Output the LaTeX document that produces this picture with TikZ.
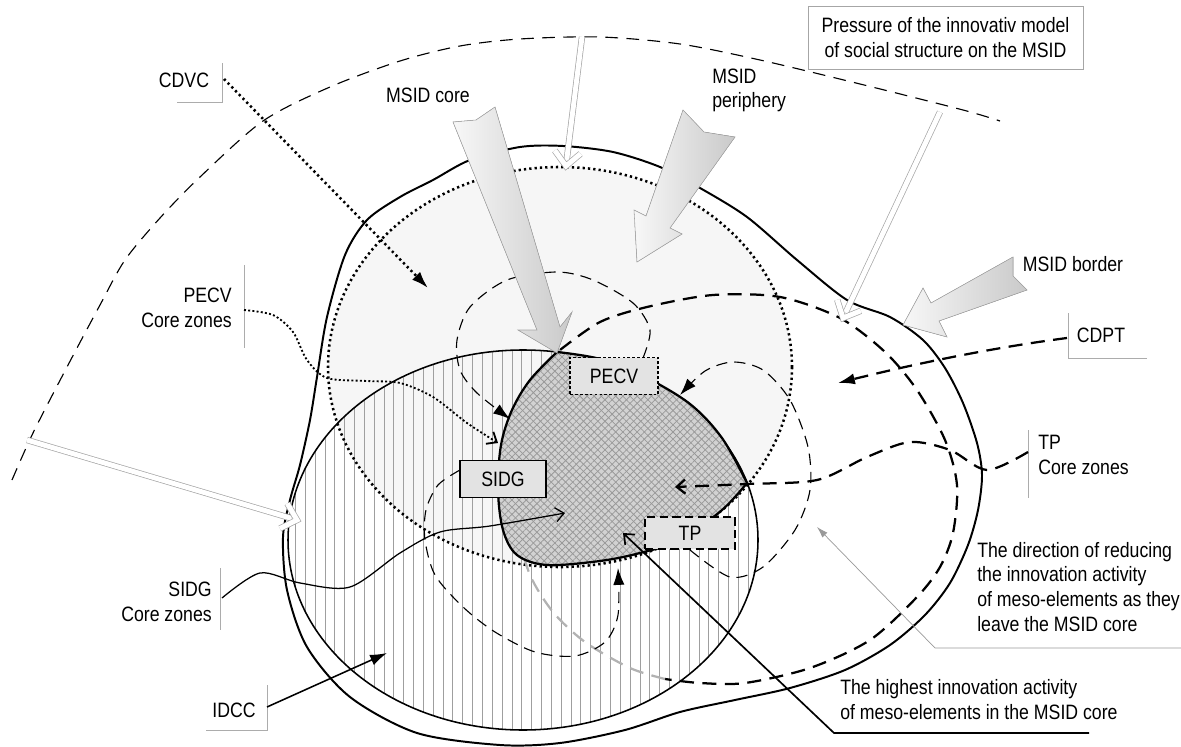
\documentclass[tikz,border=0pt]{standalone}
\usepackage{fontspec}
\setmainfont{Liberation Sans}[FakeStretch=0.85]
\usetikzlibrary{arrows.meta,patterns.meta}

\tikzset{
  lbl/.style={font=\fontsize{14.8}{17.5}\selectfont, inner sep=0pt},
  brk/.style={gray!65, line width=0.5pt},
  corebox/.style={lbl, draw, fill=gray!22, minimum height=0.92cm},
  fatarrow/.style={draw=gray!70, line width=0.4pt, left color=gray!6, right color=gray!42},
  dblarrow/.style={draw=gray!70, line width=0.5pt, double=white, double distance=3.5pt, line join=miter},
  arcline/.style={dash pattern=on 9pt off 6pt, line width=0.8pt},
  loopline/.style={dash pattern=on 8pt off 5pt, line width=0.8pt},
  tpline/.style={dash pattern=on 10pt off 6pt, line width=1.6pt},
  dotline/.style={dash pattern=on 1.6pt off 2.2pt, line width=1.8pt},
  fdot/.style={dash pattern=on 1.4pt off 1.6pt, line width=1.3pt},
  tipfill/.style={-{Latex[length=12pt,width=8pt]}},
  tipopen/.style={-{Straight Barb[length=6pt,width=10pt]}}
}

\begin{document}
\begin{tikzpicture}[x=0.025cm, y=-0.025cm]
    \useasboundingbox (0,0) rectangle (1181,747);

    % Outer arc of the innovative model
    \draw[arcline] plot[smooth] coordinates {(12,480) (33,433) (67,367) (100,305) (125,260) (160,218) (200,177) (263,121) (330,87) (400,61) (460,46) (520,39) (600,37) (680,44) (760,60) (860,84) (963,110) (1000,121)};

    % Periphery and IDCC areas
    \fill[gray!7] (560,367) ellipse (232 and 200);
    \path[pattern={Lines[angle=90,distance=7pt,line width=0.45pt]}, pattern color=gray!75] (523,540) ellipse (235 and 190);

    % MSID border
    \draw[line width=1.4pt] plot[smooth cycle] coordinates {(283,537) (290,500) (300,465) (310,420) (317,377) (327,317) (345,255) (367,220) (400,197) (433,180) (470,160) (520,147) (563,146) (613,152) (660,167) (700,188) (747,217) (797,260) (847,300) (890,317) (923,340) (945,368) (963,403) (977,443) (982,475) (978,510) (968,545) (950,583) (925,615) (890,645) (845,670) (790,688) (735,700) (680,712) (625,730) (560,743) (500,745) (417,733) (350,697) (307,647) (287,590)};

    % Dotted periphery line
    \draw[dotline] (560,367) ellipse (232 and 200);

    % TP zone
    \draw[tpline] plot[smooth] coordinates {(560,350) (600,322) (647,307) (713,295) (780,297) (840,318) (885,352) (917,390) (945,440) (957,485) (953,533) (940,567) (917,597) (870,640) (810,668) (745,683) (700,683) (665,679)};
    \draw[tpline, gray!60] plot[smooth] coordinates {(665,679) (630,668) (585,642) (553,612) (530,575) (518,530) (517,480) (525,420) (540,375) (560,350)};

    % IDCC outline
    \draw[line width=1.1pt] (523,540) ellipse (235 and 190);

    % MSID core
    \draw[line width=1.6pt, preaction={fill=gray!35}, preaction={pattern={Lines[angle=45,distance=3.6pt,line width=0.55pt]}, pattern color=gray!80}, preaction={pattern={Lines[angle=-45,distance=3.6pt,line width=0.55pt]}, pattern color=gray!80}]
        plot[smooth, tension=0.55] coordinates {(557,352) (600,359) (645,377) (690,404) (722,438) (747,483)}
        -- plot[smooth, tension=0.55] coordinates {(747,483) (722,510) (680,540) (640,553) (600,561) (547,565) (517,555) (503,530) (498,490) (501,445) (512,410) (530,380) (557,352)} -- cycle;

    % Core zone loops
    \draw[loopline, tipfill] plot[smooth] coordinates {(643,358) (650,330) (633,303) (593,280) (557,272) (507,280) (470,307) (457,340) (460,370) (477,393) (510,419)};
    \draw[loopline, tipfill] plot[smooth] coordinates {(690,550) (730,577) (763,567) (795,530) (810,490) (808,447) (790,400) (763,370) (733,362) (705,371) (680,395)};
    \draw[loopline, tipfill] plot[smooth] coordinates {(460,470) (438,485) (426,510) (425,540) (435,575) (463,607) (495,632) (535,652) (575,656) (605,642) (618,615) (618,568)};

    % Boxes in the core
    \node[corebox, dash pattern=on 2pt off 1.5pt, line width=1pt, minimum width=2.2cm] (pecv) at (614,376) {PECV};
    \node[corebox, line width=1pt, minimum width=2.15cm] (sidg) at (503,479) {SIDG};
    \node[corebox, dash pattern=on 6pt off 3pt, line width=1.5pt, minimum width=2.25cm, minimum height=0.82cm] (tp) at (690,533) {TP};

    % Pressure arrows
    \filldraw[fatarrow] (453,122) -- (476,120) -- (495,107) -- (560,327) -- (572,312) -- (557,353) -- (518,330) -- (537,330) -- cycle;
    \filldraw[fatarrow] (683,110) -- (704,132) -- (735,137) -- (670,228) -- (682,234) -- (637,262) -- (634,210) -- (646,216) -- cycle;
    \filldraw[fatarrow] (1013,257) -- (1013,276) -- (1027,290) -- (939,321) -- (947,337) -- (903,325) -- (923,288) -- (931,303) -- cycle;

    \draw[dblarrow] (582,37) -- (566.7,160);
    \draw[dblarrow] (580.6,153.7) -- (566,166) -- (554.8,150.5);
    \draw[dblarrow] (940,112) -- (845.6,312.6);
    \draw[dblarrow] (860.8,310.8) -- (843,318) -- (837.2,299.8);
    \draw[dblarrow] (27,440) -- (291.2,518.3);
    \draw[dblarrow] (279.9,528.5) -- (297,520) -- (287.3,503.5);

    % Labels
    \node[lbl, draw=gray!70, line width=0.5pt, minimum width=6.875cm, minimum height=1.575cm, align=center] (press) at (945.5,37.5) {Pressure of the innovativ model\\of social structure on the MSID};
    \node[lbl, anchor=base] (cdvc) at (184,88) {CDVC};
    \node[lbl, anchor=base] (msidcore) at (428,103) {MSID core};
    \node[lbl, anchor=base west, align=left] (msidper) at (712,108) {MSID\\periphery};
    \node[lbl, anchor=base] (msidbord) at (1073,272) {MSID border};
    \node[lbl, anchor=base] (cdpt) at (1101,343) {CDPT};
    \node[lbl, anchor=base west, align=left] (tpzones) at (1038,474) {TP\\Core zones};
    \node[lbl, anchor=base east, align=right] (pecvzones) at (232,327) {PECV\\Core zones};
    \node[lbl, anchor=base east, align=right] (sidgzones) at (212,621) {SIDG\\Core zones};
    \node[lbl, anchor=base] (idcc) at (234,717) {IDCC};
    \node[lbl, anchor=base west, align=left] (dirtext) at (977,631) {The direction of reducing\\the innovation activity\\of meso-elements as they\\leave the MSID core};
    \node[lbl, anchor=base west, align=left] (hightext) at (840,719) {The highest innovation activity\\of meso-elements in the MSID core};

    % Label brackets
    \draw[brk] (177,102) -| (222,63);
    \draw[brk] (1147,358) -| (1068,313);
    \draw[brk] (1028,430) -- (1028,498);
    \draw[brk] (244,265) -- (244,348);
    \draw[brk] (220,568) -- (220,630);
    \draw[brk] (206,730) -| (267,685);

    % Connectors
    \coordinate (cdvcA) at (224,79);
    \coordinate (cdvcB) at (428,288);
    \draw[dotline, tipfill] (cdvcA) -- (cdvcB);

    \coordinate (cdptA) at (1067,338);
    \coordinate (cdptB) at (838,383);
    \draw[tpline, tipfill] (cdptA) .. controls (990,348) and (910,365) .. (cdptB);

    \coordinate (tpA) at (1028,452);
    \coordinate (tpB) at (675,487);
    \draw[tpline, tipopen] plot[smooth] coordinates {(tpA) (987,470) (950,450) (910,442) (867,457) (817,480) (747,484) (tpB)};

    \coordinate (pecvA) at (244,310);
    \coordinate (pecvB) at (498,443);
    \draw[fdot, tipopen] plot[smooth] coordinates {(pecvA) (273,315) (293,332) (307,360) (327,378) (367,381) (400,383) (433,397) (467,423) (pecvB)};

    \coordinate (sidgA) at (222,598);
    \coordinate (sidgB) at (565,513);
    \draw[line width=0.9pt, tipopen] plot[smooth] coordinates {(sidgA) (260,573) (300,583) (350,587) (400,553) (440,532) (490,526) (sidgB)};

    \coordinate (idccA) at (267,707);
    \coordinate (idccB) at (387,653);
    \draw[line width=1.1pt, tipfill] (idccA) -- (idccB);

    \coordinate (highA) at (1089,733);
    \coordinate (highB) at (623,533);
    \draw[line width=1.2pt, tipopen] (highA) -- (834,733) -- (highB);

    \coordinate (dirA) at (1181,648);
    \coordinate (dirB) at (817,527);
    \draw[gray!80, line width=0.5pt, -{Latex[length=8pt,width=5pt]}] (dirA) -- (935,648) -- (dirB);
\end{tikzpicture}
\end{document}
